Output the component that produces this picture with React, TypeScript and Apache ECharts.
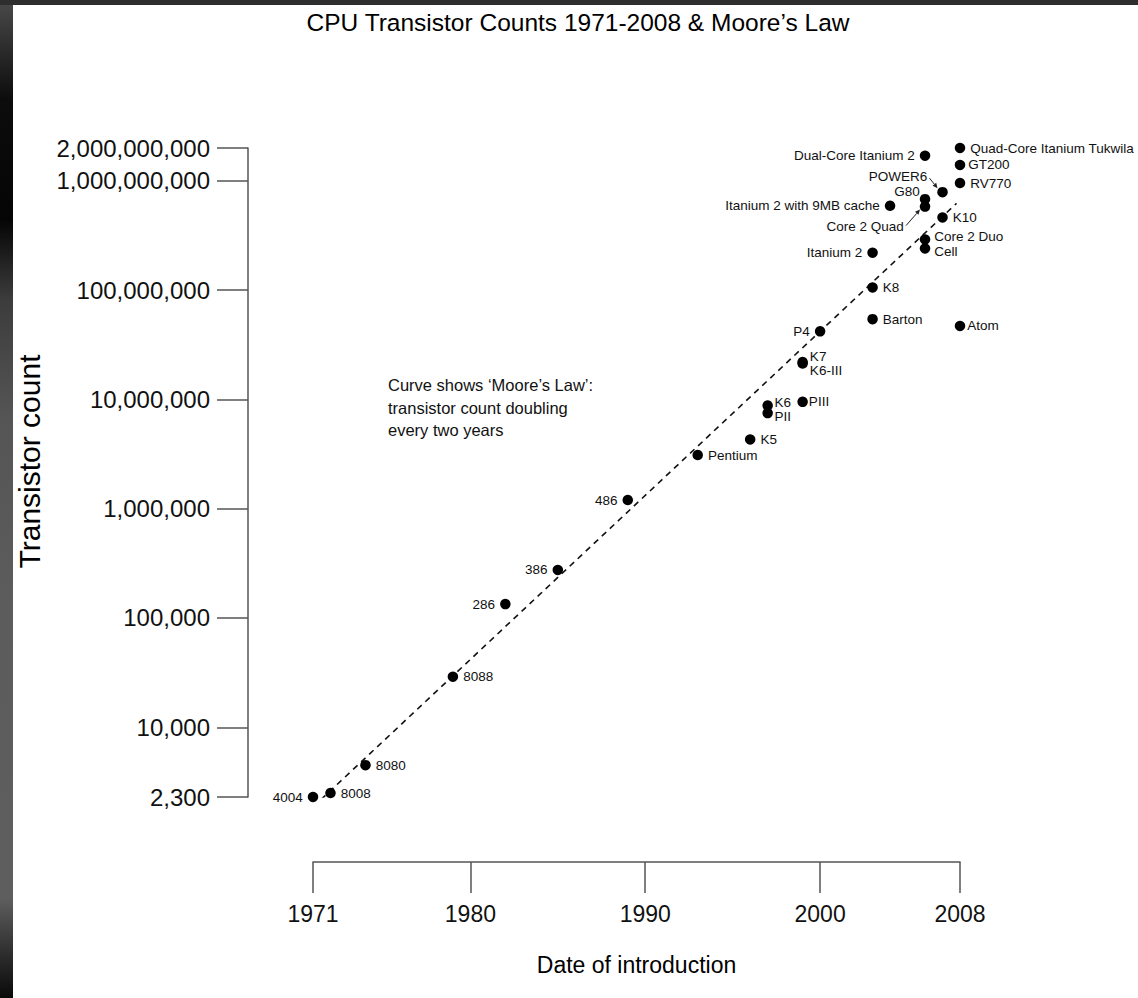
import React, { useEffect, useRef } from 'react';
import * as echarts from 'echarts';

// ---- data ----
const chipNames = [
  '4004', '8008', '8080', '8088', '286', '386', '486', 'Pentium', 'K5', 'K6',
  'PII', 'PIII', 'K7', 'K6-III', 'P4', 'Barton', 'Atom', 'K8', 'Itanium 2', 'Cell',
  'Core 2 Duo', 'K10', 'Itanium 2 with 9MB cache', 'Core 2 Quad', 'G80', 'POWER6',
  'Dual-Core Itanium 2', 'Quad-Core Itanium Tukwila', 'GT200', 'RV770',
];
const chipYears = [
  1971, 1972, 1974, 1979, 1982, 1985, 1989, 1993, 1996, 1997,
  1997, 1999, 1999, 1999, 2000, 2003, 2008, 2003, 2003, 2006,
  2006, 2007, 2004, 2006, 2006, 2007,
  2006, 2008, 2008, 2008,
];
const chipCounts = [
  2300, 2500, 4500, 29000, 134000, 275000, 1200000, 3100000, 4300000, 8800000,
  7500000, 9500000, 22000000, 21300000, 42000000, 54300000, 47000000, 105900000, 220000000, 241000000,
  291000000, 463000000, 592000000, 582000000, 681000000, 789000000,
  1700000000, 2000000000, 1400000000, 956000000,
];
const labelSides = [
  'left', 'right', 'right', 'right', 'left', 'left', 'left', 'right', 'right', 'right',
  'right', 'right', 'right', 'right', 'left', 'right', 'right', 'right', 'left', 'right',
  'right', 'right', 'left', 'left', 'left', 'left',
  'left', 'right', 'right', 'right',
];
const mooreYears = [1971, 2007.8];
const mooreCounts = [1860, 622000000];
const xTicks = [1971, 1980, 1990, 2000, 2008];
const yTicks = [2300, 10000, 100000, 1000000, 10000000, 100000000, 1000000000, 2000000000];

const titleText = 'CPU Transistor Counts 1971-2008 & Moore\u2019s Law';
const noteText = 'Curve shows \u2018Moore\u2019s Law\u2019:\ntransistor count doubling\nevery two years';

// ---- label styling tweaks (not data) ----
const labelTweaks: Record<string, { distance?: number; offset?: number[] }> = {
  K6: { distance: 1.5, offset: [0, -3] },
  PII: { distance: 1.5, offset: [0, 3] },
  PIII: { distance: 1 },
  K7: { distance: 2, offset: [0, -6] },
  'K6-III': { distance: 2, offset: [0, 7] },
  Atom: { distance: 2 },
  'Core 2 Duo': { distance: 4, offset: [0, -3] },
  Cell: { distance: 4, offset: [0, 3] },
  G80: { distance: 0, offset: [0, -8] },
  POWER6: { distance: 10, offset: [0, -16] },
  'Core 2 Quad': { distance: 16, offset: [0, 20] },
  GT200: { distance: 3 },
};
const arrows = [
  { target: 'POWER6', from: [-13, -14], to: [-5, -4] },
  { target: 'Core 2 Quad', from: [-19, 19], to: [-5, 3] },
];

const FONT = "'Liberation Sans', Arial, Helvetica, sans-serif";
const fmt = (v: number) => String(Math.round(v)).replace(/\B(?=(\d{3})+(?!\d))/g, ',');

export default function App() {
  const ref = useRef<HTMLDivElement>(null);
  useEffect(() => {
    document.body.style.margin = '0';
    if (!ref.current) return;
    const chart = echarts.init(ref.current, null, { renderer: 'svg' });
    const axisColor = '#555';
    const stripGradient = new echarts.graphic.LinearGradient(0, 0, 0, 1, [
      { offset: 0, color: '#4a4a4a' },
      { offset: 0.1, color: '#0c0c0c' },
      { offset: 0.22, color: '#050505' },
      { offset: 0.3, color: '#3c3c3c' },
      { offset: 0.42, color: '#555555' },
      { offset: 0.6, color: '#5c5c5c' },
      { offset: 0.9, color: '#5e5e5e' },
      { offset: 0.96, color: '#2a2a2a' },
      { offset: 1, color: '#0a0a0a' },
    ]);
    const baseGraphics: any[] = [
      { type: 'rect', shape: { x: 0, y: 0, width: 13, height: 998 }, style: { fill: stripGradient }, z: 100 },
      { type: 'rect', shape: { x: 0, y: 0, width: 1138, height: 5 }, style: { fill: '#2e2e2e' }, z: 100 },
      {
        type: 'text', left: 388, top: 374, z: 10,
        style: { text: noteText, fontSize: 16.5, lineHeight: 22.5, fill: '#111', font: `16.5px ${FONT}` },
      },
    ];
    const option: any = {
      animation: false,
      backgroundColor: '#ffffff',
      textStyle: { fontFamily: FONT },
      title: {
        text: titleText, left: 573, textAlign: 'center', top: 5,
        textStyle: { fontSize: 24.5, fontWeight: 'normal', color: '#000', fontFamily: FONT },
      },
      grid: { left: 313, right: 178, top: 148, bottom: 201, containLabel: false, outerBoundsMode: 'none' },
      xAxis: {
        type: 'value', min: 1971, max: 2008, offset: 65,
        name: 'Date of introduction', nameLocation: 'middle', nameGap: 91,
        nameTextStyle: { fontSize: 23, color: '#000', fontFamily: FONT },
        axisLine: { show: true, lineStyle: { color: axisColor, width: 1.5 } },
        axisTick: { show: true, length: 31, customValues: xTicks, lineStyle: { color: axisColor, width: 1.5 } },
        axisLabel: { customValues: xTicks, fontSize: 23, color: '#111', margin: 40, fontFamily: FONT, formatter: (v: number) => String(v) },
        splitLine: { show: false },
      },
      yAxis: {
        type: 'log', logBase: 10, min: 2300, max: 2000000000, offset: 65,
        name: 'Transistor count', nameLocation: 'middle', nameGap: 204,
        nameTextStyle: { fontSize: 30, color: '#000', fontFamily: FONT, padding: [0, 0, 0, 22] },
        axisLine: { show: true, lineStyle: { color: axisColor, width: 1.5 } },
        axisTick: { show: true, length: 31, customValues: yTicks, lineStyle: { color: axisColor, width: 1.5 } },
        axisLabel: { customValues: yTicks, fontSize: 24, color: '#111', margin: 38, fontFamily: FONT, formatter: (v: number) => fmt(v) },
        splitLine: { show: false },
        minorTick: { show: false },
      },
      series: [
        {
          type: 'line', silent: true, symbol: 'none', z: 1,
          data: mooreYears.map((y, i) => [y, mooreCounts[i]]),
          lineStyle: { color: '#111', width: 1.6, type: [6, 5] },
        },
        {
          type: 'scatter', symbol: 'circle', symbolSize: 10.5, z: 3,
          itemStyle: { color: '#000', opacity: 1 },
          label: { show: true, formatter: '{b}', fontSize: 13.5, lineHeight: 12, color: '#111', fontFamily: FONT, distance: 5 },
          data: chipNames.map((n, i) => {
            const t = labelTweaks[n] || {};
            return {
              name: n,
              value: [chipYears[i], chipCounts[i]],
              label: { position: labelSides[i], distance: t.distance ?? 5, offset: t.offset ?? [0, 0] },
            };
          }),
        },
      ],
      graphic: baseGraphics,
    };
    chart.setOption(option);

    // arrows from labels to their points, positioned via the chart's own scales
    const arrowGraphics: any[] = [];
    arrows.forEach((a) => {
      const i = chipNames.indexOf(a.target);
      const p = chart.convertToPixel({ seriesIndex: 1 }, [chipYears[i], chipCounts[i]]) as number[];
      const x1 = p[0] + a.from[0], y1 = p[1] + a.from[1];
      const x2 = p[0] + a.to[0], y2 = p[1] + a.to[1];
      const len = Math.hypot(x2 - x1, y2 - y1) || 1;
      const dx = (x2 - x1) / len, dy = (y2 - y1) / len;
      const bx = x2 - dx * 5, by = y2 - dy * 5;
      const nx = -dy * 2.3, ny = dx * 2.3;
      arrowGraphics.push({ type: 'line', shape: { x1, y1, x2: bx, y2: by }, style: { stroke: '#222', lineWidth: 1 }, z: 10 });
      arrowGraphics.push({ type: 'polygon', shape: { points: [[x2, y2], [bx + nx, by + ny], [bx - nx, by - ny]] }, style: { fill: '#222' }, z: 10 });
    });
    chart.setOption({ graphic: [...baseGraphics, ...arrowGraphics] });

    return () => chart.dispose();
  }, []);
  return <div ref={ref} style={{ width: 1138, height: 998 }} />;
}
